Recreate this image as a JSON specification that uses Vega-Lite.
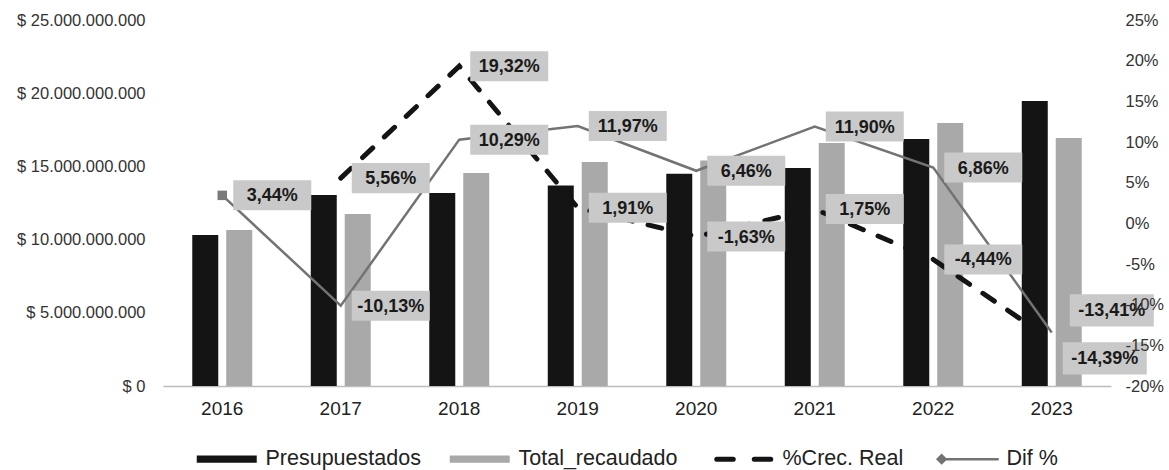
{
  "$schema": "https://vega.github.io/schema/vega-lite/v6.json",
  "width": 948,
  "height": 366,
  "autosize": {"type": "none"},
  "padding": {"left": 163, "top": 20, "right": 58, "bottom": 84},
  "background": "white",
  "config": {
    "view": {"stroke": null},
    "font": "Liberation Sans",
    "locale": {"number": {"decimal": ",", "thousands": ".", "grouping": [3], "currency": ["$ ", ""], "minus": "-"}},
    "axis": {"grid": false, "ticks": false, "labelFont": "Liberation Sans", "labelColor": "#333333", "title": null}
  },
  "data": {
    "values": [
      {"year": "2016", "Presupuestados": 10310000000, "Total_recaudado": 10660000000, "crec": null, "dif": 0.0344},
      {"year": "2017", "Presupuestados": 13050000000, "Total_recaudado": 11750000000, "crec": 0.0556, "dif": -0.1013},
      {"year": "2018", "Presupuestados": 13180000000, "Total_recaudado": 14550000000, "crec": 0.1932, "dif": 0.1029},
      {"year": "2019", "Presupuestados": 13700000000, "Total_recaudado": 15300000000, "crec": 0.0191, "dif": 0.1197},
      {"year": "2020", "Presupuestados": 14500000000, "Total_recaudado": 15400000000, "crec": -0.0163, "dif": 0.0646},
      {"year": "2021", "Presupuestados": 14890000000, "Total_recaudado": 16600000000, "crec": 0.0175, "dif": 0.1190},
      {"year": "2022", "Presupuestados": 16870000000, "Total_recaudado": 17960000000, "crec": -0.0444, "dif": 0.0686},
      {"year": "2023", "Presupuestados": 19470000000, "Total_recaudado": 16940000000, "crec": -0.1439, "dif": -0.1341}
    ]
  },
  "layer": [
    {
      "transform": [{"fold": ["Presupuestados", "Total_recaudado"], "as": ["serie", "monto"]}],
      "mark": {"type": "bar"},
      "encoding": {
        "x": {
          "field": "year", "type": "ordinal",
          "scale": {"paddingInner": 0.494, "paddingOuter": 0.247},
          "axis": {"labelAngle": 0, "labelFontSize": 19, "labelPadding": 13, "domainColor": "#bdbdbd", "domainWidth": 1.5, "labelColor": "#222222", "title": null}
        },
        "xOffset": {"field": "serie", "type": "nominal", "scale": {"domain": ["Presupuestados", "Total_recaudado"], "paddingInner": 0.235, "paddingOuter": 0}},
        "y": {
          "field": "monto", "type": "quantitative",
          "scale": {"domain": [0, 25000000000], "nice": false},
          "axis": {"orient": "left", "values": [0, 5000000000, 10000000000, 15000000000, 20000000000, 25000000000], "format": "$,.0f", "labelFontSize": 16.5, "labelPadding": 18, "domain": false, "title": null}
        },
        "color": {
          "field": "serie", "type": "nominal",
          "scale": {"domain": ["Presupuestados", "Total_recaudado", "%Crec. Real", "Dif %"], "range": ["#141414", "#a9a9a9", "#141414", "#737373"]},
          "legend": {
            "orient": "none", "legendX": 53, "legendY": 428, "direction": "horizontal", "title": null,
            "symbolSize": 3600, "symbolType": "M-1,-0.12H1V0.12H-1Z",
            "labelFontSize": 21.5, "labelColor": "#222222", "labelFont": "Liberation Sans", "labelOffset": 28, "columnPadding": 28,
            "encode": {
              "symbols": {
                "update": {
                  "shape": {"signal": "datum.value === '%Crec. Real' ? 'M-0.9,0H-0.35M0.35,0H0.9' : datum.value === 'Dif %' ? 'M-1,0L-0.87,-0.13L-0.74,0L-0.87,0.13ZM-0.74,0H1' : 'M-1,-0.12H1V0.12H-1Z'"},
                  "strokeWidth": {"signal": "datum.value === '%Crec. Real' ? 5 : datum.value === 'Dif %' ? 2.5 : 0"},
                  "strokeCap": {"value": "round"},
                  "fill": {"signal": "datum.value === '%Crec. Real' ? 'transparent' : scale('color', datum.value)"},
                  "stroke": {"signal": "scale('color', datum.value)"},
                  "fillOpacity": {"value": 1},
                  "strokeOpacity": {"value": 1},
                  "opacity": {"value": 1}
                }
              }
            }
          }
        }
      }
    },
    {
      "layer": [
        {
          "transform": [{"filter": "datum.crec != null"}],
          "mark": {"type": "line", "strokeDash": [14, 16], "strokeWidth": 5, "strokeCap": "round"},
          "encoding": {
            "x": {"field": "year", "type": "ordinal"},
            "y": {
              "field": "crec", "type": "quantitative",
              "scale": {"domain": [-0.2, 0.25], "nice": false},
              "axis": {"orient": "right", "values": [-0.2, -0.15, -0.1, -0.05, 0, 0.05, 0.1, 0.15, 0.2, 0.25], "format": ".0%", "labelFontSize": 16.5, "labelPadding": 14, "domain": false, "zindex": 1, "title": null}
            },
            "color": {"datum": "%Crec. Real", "type": "nominal"}
          }
        },
        {
          "mark": {"type": "line", "strokeWidth": 2.5},
          "encoding": {
            "x": {"field": "year", "type": "ordinal"},
            "y": {"field": "dif", "type": "quantitative"},
            "color": {"datum": "Dif %", "type": "nominal"}
          }
        },
        {
          "transform": [{"filter": "datum.year == '2016'"}],
          "mark": {"type": "point", "shape": "square", "size": 90, "filled": true, "color": "#7a7a7a", "opacity": 1},
          "encoding": {
            "x": {"field": "year", "type": "ordinal"},
            "y": {"field": "dif", "type": "quantitative"}
          }
        },
        {
          "transform": [{"fold": ["crec", "dif"], "as": ["k", "v"]}, {"filter": "datum.v != null && datum.year != '2023'"}],
          "mark": {"type": "point", "shape": "M-1,-0.385H1V0.385H-1Z", "size": 6084, "filled": true, "color": "#c9c9c9", "opacity": 1, "xOffset": 50},
          "encoding": {
            "x": {"field": "year", "type": "ordinal"},
            "y": {"field": "v", "type": "quantitative"}
          }
        },
        {
          "transform": [{"fold": ["crec", "dif"], "as": ["k", "v"]}, {"filter": "datum.v != null && datum.year != '2023'"}],
          "mark": {"type": "text", "fontSize": 18, "fontWeight": "bold", "color": "#1a1a1a", "align": "center", "baseline": "middle", "dx": 50, "dy": 1},
          "encoding": {
            "x": {"field": "year", "type": "ordinal"},
            "y": {"field": "v", "type": "quantitative"},
            "text": {"field": "v", "type": "quantitative", "format": ".2%"}
          }
        },
        {
          "transform": [{"filter": "datum.year == '2023'"}],
          "mark": {"type": "point", "shape": "M-1,-0.385H1V0.385H-1Z", "size": 7056, "filled": true, "color": "#c9c9c9", "opacity": 1, "xOffset": 60, "yOffset": -22},
          "encoding": {
            "x": {"field": "year", "type": "ordinal"},
            "y": {"field": "dif", "type": "quantitative"}
          }
        },
        {
          "transform": [{"filter": "datum.year == '2023'"}],
          "mark": {"type": "point", "shape": "M-1,-0.385H1V0.385H-1Z", "size": 7056, "filled": true, "color": "#c9c9c9", "opacity": 1, "xOffset": 53, "yOffset": 18},
          "encoding": {
            "x": {"field": "year", "type": "ordinal"},
            "y": {"field": "crec", "type": "quantitative"}
          }
        },
        {
          "transform": [{"filter": "datum.year == '2023'"}],
          "mark": {"type": "text", "fontSize": 18, "fontWeight": "bold", "color": "#1a1a1a", "align": "center", "baseline": "middle", "dx": 60, "dy": -21},
          "encoding": {
            "x": {"field": "year", "type": "ordinal"},
            "y": {"field": "dif", "type": "quantitative"},
            "text": {"field": "dif", "type": "quantitative", "format": ".2%"}
          }
        },
        {
          "transform": [{"filter": "datum.year == '2023'"}],
          "mark": {"type": "text", "fontSize": 18, "fontWeight": "bold", "color": "#1a1a1a", "align": "center", "baseline": "middle", "dx": 53, "dy": 19},
          "encoding": {
            "x": {"field": "year", "type": "ordinal"},
            "y": {"field": "crec", "type": "quantitative"},
            "text": {"field": "crec", "type": "quantitative", "format": ".2%"}
          }
        }
      ]
    }
  ],
  "resolve": {"scale": {"y": "independent"}}
}
